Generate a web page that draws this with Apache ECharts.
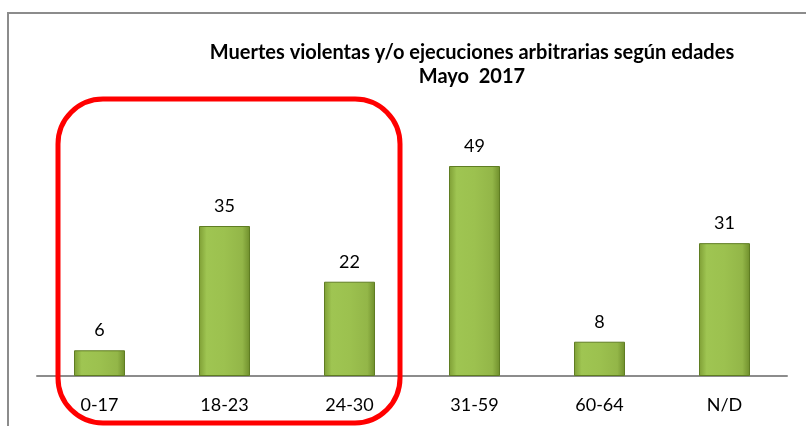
<!DOCTYPE html>
<html>
<head>
<meta charset="utf-8">
<script src="https://cdn.jsdelivr.net/npm/echarts@6/dist/echarts.min.js"></script>
<style>
html,body{margin:0;padding:0;background:#fff;}
#chart{width:806px;height:426px;}
</style>
</head>
<body>
<div id="chart"></div>
<script>
var categories = ['0-17', '18-23', '24-30', '31-59', '60-64', 'N/D'];
var values = [6, 35, 22, 49, 8, 31];
var titleText = 'Muertes violentas y/o ejecuciones arbitrarias según edades\nMayo  2017';

var myChart = echarts.init(document.getElementById('chart'));

var barColor = new echarts.graphic.LinearGradient(0, 0, 1, 0, [
    { offset: 0, color: '#7e9e35' },
    { offset: 0.15, color: '#9fc552' },
    { offset: 0.5, color: '#9cc14f' },
    { offset: 0.85, color: '#93b648' },
    { offset: 1, color: '#6f8e2c' }
]);

var option = {
    backgroundColor: '#fff',
    animation: false,
    textStyle: { fontFamily: 'Lato' },
    title: {
        text: titleText,
        left: 467,
        top: 36,
        textAlign: 'center',
        textStyle: {
            fontFamily: 'Lato',
            fontSize: 20,
            fontWeight: 'bold',
            color: '#000',
            lineHeight: 24
        }
    },
    grid: { left: 37, right: 19, top: 166, bottom: 50 },
    xAxis: {
        type: 'category',
        data: categories,
        axisLine: { lineStyle: { color: '#8c8c8c', width: 2 } },
        axisTick: { show: false },
        axisLabel: { color: '#000', fontSize: 18, margin: 20 }
    },
    yAxis: {
        type: 'value',
        min: 0,
        max: 49,
        show: false,
        splitLine: { show: false }
    },
    series: [{
        type: 'bar',
        data: values,
        barWidth: 51,
        itemStyle: {
            color: barColor,
            borderColor: '#5f7d22',
            borderWidth: 1
        },
        label: {
            show: true,
            position: 'top',
            distance: 11,
            color: '#000',
            fontSize: 18
        }
    }],
    graphic: [
        {
            type: 'rect',
            shape: { x: 8, y: 13, width: 820, height: 440 },
            style: { fill: null, stroke: '#8c8c8c', lineWidth: 2 },
            z: -1
        },
        {
            type: 'rect',
            shape: { x: 58, y: 99, width: 342, height: 324, r: 45 },
            style: { fill: null, stroke: '#ff0000', lineWidth: 5 },
            z: 10
        }
    ]
};
myChart.setOption(option);
</script>
</body>
</html>
